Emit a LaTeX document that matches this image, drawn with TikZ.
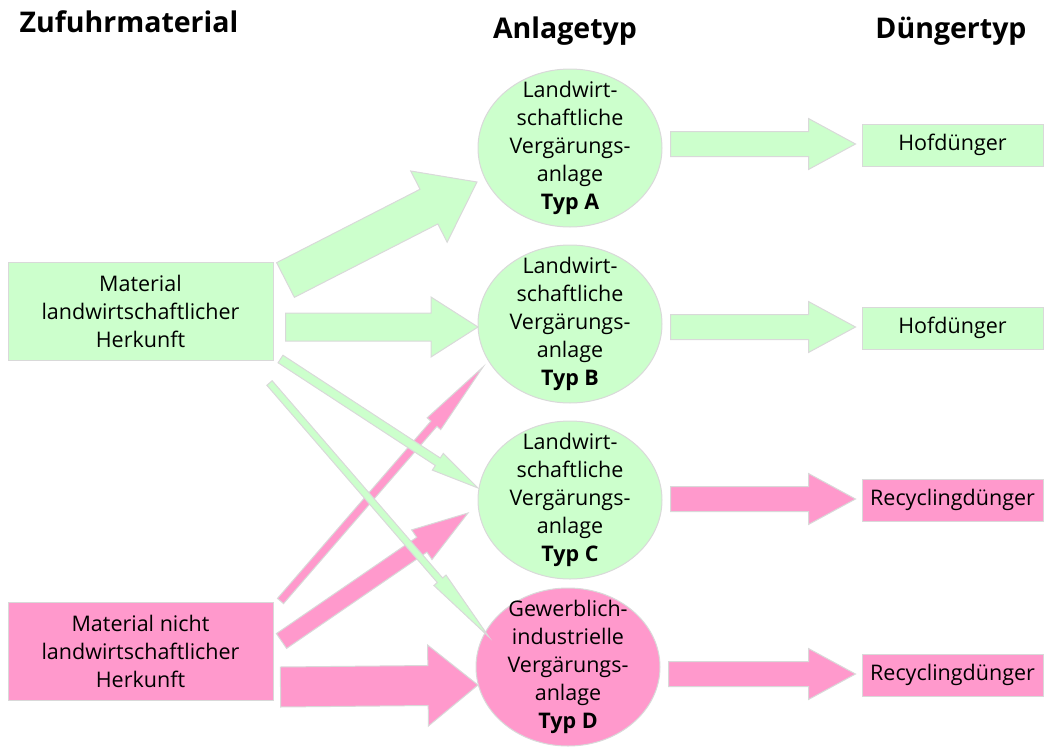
\documentclass[tikz,border=0pt]{standalone}
\usepackage{fontspec}
\setmainfont{Open Sans}
\usepackage{tikz}
\usetikzlibrary{shapes.geometric, calc}

\definecolor{gruen}{HTML}{CCFFCC}
\definecolor{rosa}{HTML}{FF99CC}
\definecolor{rand}{HTML}{D9D9D9}

% Blockpfeil: Farbe, Anfang, Spitze, halbe Schaftbreite, halbe Kopfbreite, Kopflaenge
\newcommand{\pfeil}[6]{%
    \coordinate (pfT) at #2;
    \coordinate (pfS) at #3;
    \coordinate (pfB) at ($(pfS)!#6!(pfT)$);
    \filldraw[fill=#1, draw=rand, line width=1pt]
        ($(pfT)!#4!90:(pfS)$) -- ($(pfB)!#4!90:(pfS)$) -- ($(pfB)!#5!90:(pfS)$) -- (pfS)
        -- ($(pfB)!#5!-90:(pfS)$) -- ($(pfB)!#4!-90:(pfS)$) -- ($(pfT)!#4!-90:(pfS)$) -- cycle;
}

\tikzset{
    kopf/.style={font=\fontsize{28.5}{32}\selectfont\bfseries, anchor=base},
    feld/.style={draw=rand, line width=1pt, align=center, inner sep=0pt,
        font=\fontsize{21.5}{28}\selectfont},
    zufuhr/.style={feld, minimum width=265pt, minimum height=98pt},
    anlage/.style={feld, ellipse, inner ysep=-30pt, minimum width=184pt, minimum height=158pt},
    duenger/.style={feld, minimum width=181pt, minimum height=42pt}
}

\begin{document}
\begin{tikzpicture}[x=1pt, y=-1pt]
    \useasboundingbox (0,0) rectangle (1045,747);

    \node[kopf] (kZufuhr) at (129,32) {Zufuhrmaterial};
    \node[kopf] (kAnlage) at (565,38) {Anlagetyp};
    \node[kopf] (kDuenger) at (951,38) {Düngertyp};

    \node[zufuhr, fill=gruen] (matLw) at (140.5,311) {Material\\landwirtschaftlicher\\Herkunft};
    \node[zufuhr, fill=rosa] (matNlw) at (140.5,651.5) {Material nicht\\landwirtschaftlicher\\Herkunft};

    \node[anlage, fill=gruen] (anlA) at (570,148) {Landwirt-\\schaftliche\\Vergärungs-\\anlage\\\textbf{Typ A}};
    \node[anlage, fill=gruen] (anlB) at (570,324) {Landwirt-\\schaftliche\\Vergärungs-\\anlage\\\textbf{Typ B}};
    \node[anlage, fill=gruen] (anlC) at (570,500) {Landwirt-\\schaftliche\\Vergärungs-\\anlage\\\textbf{Typ C}};
    \node[anlage, fill=rosa] (anlD) at (568,667) {Gewerblich-\\industrielle\\Vergärungs-\\anlage\\\textbf{Typ D}};

    \node[duenger, fill=gruen] (dueA) at (952.5,145) {Hofdünger};
    \node[duenger, fill=gruen] (dueB) at (952.5,328) {Hofdünger};
    \node[duenger, fill=rosa] (dueC) at (952.5,500) {Recyclingdünger};
    \node[duenger, fill=rosa] (dueD) at (952.5,675) {Recyclingdünger};

    % Zufuhr -> Anlage
    \pfeil{rosa}{($(matNlw.east)+(7,-50.5)$)}{($(anlB)+(-87,43)$)}{4pt}{9pt}{75pt}
    \pfeil{rosa}{($(matNlw.east)+(8,-10.5)$)}{($(anlC)+(-102,13)$)}{9pt}{18pt}{56pt}
    \pfeil{rosa}{($(matNlw.east)+(7,35.5)$)}{($(anlD)+(-90,18)$)}{20pt}{40.5pt}{50pt}
    \pfeil{gruen}{($(matLw.east)+(12,-31)$)}{($(anlA)+(-93,34)$)}{19.5pt}{40pt}{54pt}
    \pfeil{gruen}{($(matLw.east)+(12,16)$)}{($(anlB)+(-92,3)$)}{14pt}{30pt}{47pt}
    \pfeil{gruen}{($(matLw.east)+(7,48)$)}{($(anlC)+(-92,-12)$)}{4.5pt}{10pt}{48pt}
    \pfeil{gruen}{($(matLw.east)+(-4,72)$)}{($(anlD)+(-79,-30)$)}{3.5pt}{8pt}{75pt}

    % Anlage -> Duenger
    \pfeil{gruen}{($(anlA.east |- dueA.west)+(8,-1)$)}{($(dueA.west)+(-6,-1)$)}{12.5pt}{25.5pt}{47pt}
    \pfeil{gruen}{($(anlB.east |- dueB.west)+(8,-1)$)}{($(dueB.west)+(-6,-1)$)}{12.5pt}{25.5pt}{47pt}
    \pfeil{rosa}{($(anlC.east |- dueC.west)+(8,-1)$)}{($(dueC.west)+(-6,-1)$)}{12.5pt}{25.5pt}{47pt}
    \pfeil{rosa}{($(anlD.east |- dueD.west)+(8,-1)$)}{($(dueD.west)+(-6,-1)$)}{12.5pt}{25.5pt}{47pt}
\end{tikzpicture}
\end{document}
